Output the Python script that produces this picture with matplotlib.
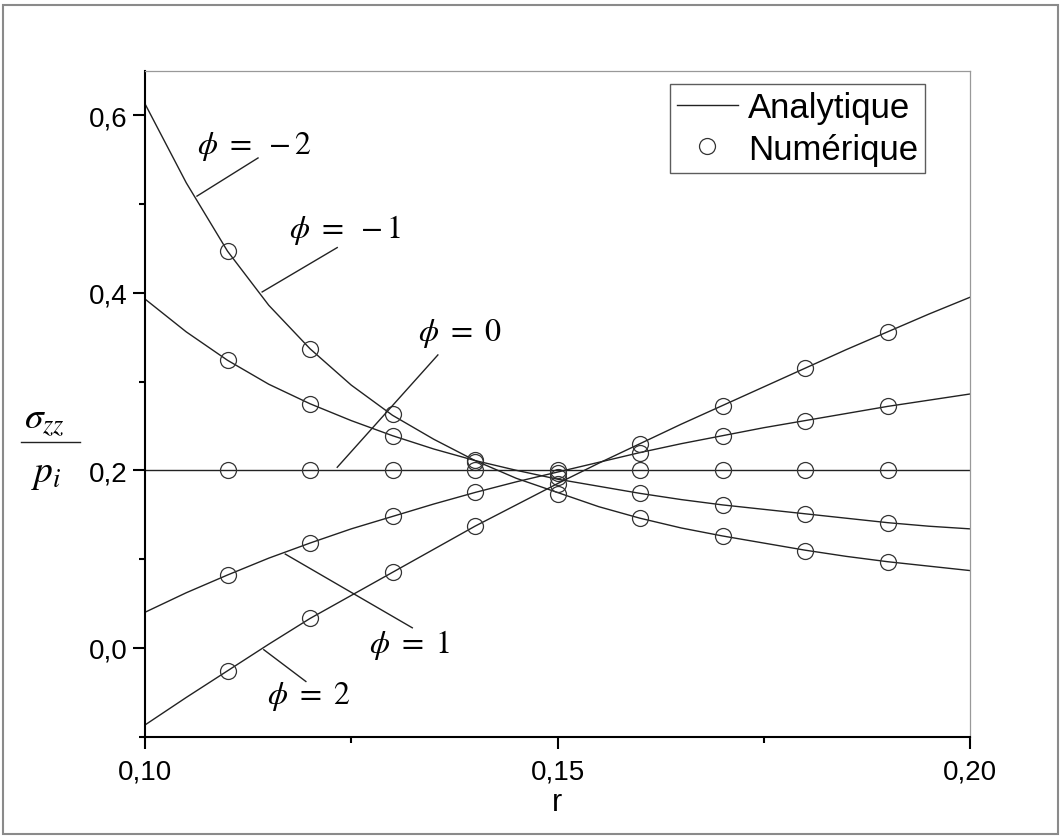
import numpy as np
import matplotlib
matplotlib.use("Agg")
import matplotlib.pyplot as plt
from matplotlib.patches import Rectangle
from matplotlib.lines import Line2D

plt.rcParams['font.family'] = ['Liberation Sans', 'DejaVu Sans']
plt.rcParams['mathtext.fontset'] = 'stix'

# ---------------- data ----------------
r_line = [0.100, 0.105, 0.110, 0.115, 0.120, 0.125, 0.130, 0.135, 0.140, 0.145,
          0.150, 0.155, 0.160, 0.165, 0.170, 0.175, 0.180, 0.185, 0.190, 0.195, 0.200]
ana_phi_m2 = [0.613, 0.524, 0.447, 0.386, 0.337, 0.296, 0.262, 0.235, 0.211, 0.191,
              0.175, 0.159, 0.146, 0.135, 0.126, 0.118, 0.110, 0.103, 0.097, 0.092, 0.087]
ana_phi_m1 = [0.393, 0.356, 0.324, 0.297, 0.275, 0.256, 0.239, 0.224, 0.211, 0.200,
              0.190, 0.182, 0.174, 0.167, 0.161, 0.156, 0.151, 0.146, 0.141, 0.137, 0.134]
ana_phi_0 = [0.200] * 21
ana_phi_1 = [0.040, 0.062, 0.082, 0.101, 0.118, 0.134, 0.148, 0.162, 0.175, 0.187,
             0.198, 0.209, 0.220, 0.230, 0.239, 0.248, 0.256, 0.264, 0.272, 0.279, 0.286]
ana_phi_2 = [-0.087, -0.056, -0.026, 0.004, 0.033, 0.059, 0.085, 0.111, 0.137, 0.161,
             0.185, 0.208, 0.230, 0.252, 0.273, 0.294, 0.315, 0.336, 0.356, 0.376, 0.395]

r_num = [0.11, 0.12, 0.13, 0.14, 0.15, 0.16, 0.17, 0.18, 0.19]
num_phi_m2 = [0.447, 0.337, 0.263, 0.212, 0.173, 0.146, 0.126, 0.109, 0.097]
num_phi_m1 = [0.324, 0.275, 0.239, 0.209, 0.192, 0.174, 0.161, 0.151, 0.141]
num_phi_0 = [0.200, 0.200, 0.200, 0.200, 0.200, 0.200, 0.200, 0.200, 0.200]
num_phi_1 = [0.082, 0.118, 0.148, 0.175, 0.197, 0.220, 0.239, 0.256, 0.272]
num_phi_2 = [-0.026, 0.033, 0.085, 0.137, 0.184, 0.230, 0.273, 0.315, 0.356]

phi_labels = [r'$\phi\ =\ -2$', r'$\phi\ =\ -1$', r'$\phi\ =\ 0$', r'$\phi\ =\ 1$', r'$\phi\ =\ 2$']

x_ticks = [0.10, 0.15, 0.20]
x_ticklabels = ['0,10', '0,15', '0,20']
y_ticks = [0.0, 0.2, 0.4, 0.6]
y_ticklabels = ['0,0', '0,2', '0,4', '0,6']
legend_labels = ['Analytique', 'Numérique']
xlabel = 'r'
ylabel_num = r'$\sigma_{zz}$'
ylabel_den = r'$p_i$'

# ---------------- figure ----------------
W, H = 1060, 837
fig = plt.figure(figsize=(W / 100, H / 100), dpi=100)
fig.patches.append(Rectangle((3 / W, 1 - 835 / H), 1055 / W, 829 / H, transform=fig.transFigure,
                             fill=False, edgecolor='#8a8a8a', linewidth=1.5))

L, R, T, B = 145, 970, 72, 737.5
ax = fig.add_axes([L / W, 1 - B / H, (R - L) / W, (B - T) / H])

line_kw = dict(color='#222222', linewidth=1.0)
mk_kw = dict(linestyle='none', marker='o', markersize=11.5, markerfacecolor='none',
             markeredgecolor='#333333', markeredgewidth=0.9)

ana = [ana_phi_m2, ana_phi_m1, ana_phi_0, ana_phi_1, ana_phi_2]
num = [num_phi_m2, num_phi_m1, num_phi_0, num_phi_1, num_phi_2]
for i, (a, n) in enumerate(zip(ana, num)):
    ax.plot(r_line, a, label=legend_labels[0] if i == 0 else None, **line_kw)
    ax.plot(r_num, n, label=legend_labels[1] if i == 0 else None, **mk_kw)

ax.set_xlim(0.10, 0.20)
ax.set_ylim(-0.10, 0.65)

ax.set_xticks(x_ticks)
ax.set_xticklabels(x_ticklabels)
ax.set_yticks(y_ticks)
ax.set_yticklabels(y_ticklabels)
ax.set_xticks([0.125, 0.175], minor=True)
ax.set_yticks([-0.1, 0.1, 0.3, 0.5], minor=True)
ax.tick_params(which='major', direction='out', length=8.6, width=1.5, labelsize=20, pad=4)
ax.tick_params(axis='x', which='major', pad=7)
ax.tick_params(which='minor', direction='out', length=4.3, width=1.5)
ax.tick_params(top=False, right=False, which='both')

for s in ['left', 'bottom']:
    ax.spines[s].set_linewidth(1.5)
    ax.spines[s].set_color('black')
for s in ['top', 'right']:
    ax.spines[s].set_linewidth(0.9)
    ax.spines[s].set_color('#999999')

ax.set_xlabel(xlabel, fontsize=22, labelpad=2)

# y label drawn as a built fraction
fig.text(44 / W, 1 - 421 / H, ylabel_num, fontsize=27, ha='center', va='center')
fig.text(46 / W, 1 - 474 / H, ylabel_den, fontsize=27, ha='center', va='center')
fig.add_artist(Line2D([21 / W, 80 / W], [1 - 443 / H, 1 - 443 / H], color='#222222',
                      linewidth=1.0, transform=fig.transFigure))

# annotations: (label position, leader start on curve, leader end)
ann_text = [(0.1063, 0.558), (0.11745, 0.463), (0.1331, 0.347), (0.1272, -0.0045), (0.1148, -0.0618)]
ann_line = [((0.1063, 0.509), (0.1137, 0.552)),
            ((0.1142, 0.401), (0.1233, 0.451)),
            ((0.1233, 0.2034), (0.1355, 0.330)),
            ((0.1170, 0.1056), (0.1324, 0.0225)),
            ((0.1144, -0.0022), (0.1195, -0.038))]
for lab, (tx, ty), ((x0, y0), (x1, y1)) in zip(phi_labels, ann_text, ann_line):
    ax.text(tx, ty, lab, fontsize=23, ha='left', va='baseline')
    ax.plot([x0, x1], [y0, y1], color='#222222', linewidth=1.0)

leg = ax.legend(loc='upper right', bbox_to_anchor=((925 - L) / (R - L), 1 - (85 - T) / (B - T)),
                fontsize=25, frameon=True, fancybox=False, borderpad=0.2, labelspacing=0.25,
                handlelength=1.75, handletextpad=0.3, borderaxespad=0.0)
leg.get_frame().set_edgecolor('#333333')
leg.get_frame().set_linewidth(1.0)

fig.savefig('out.png', dpi=100)
